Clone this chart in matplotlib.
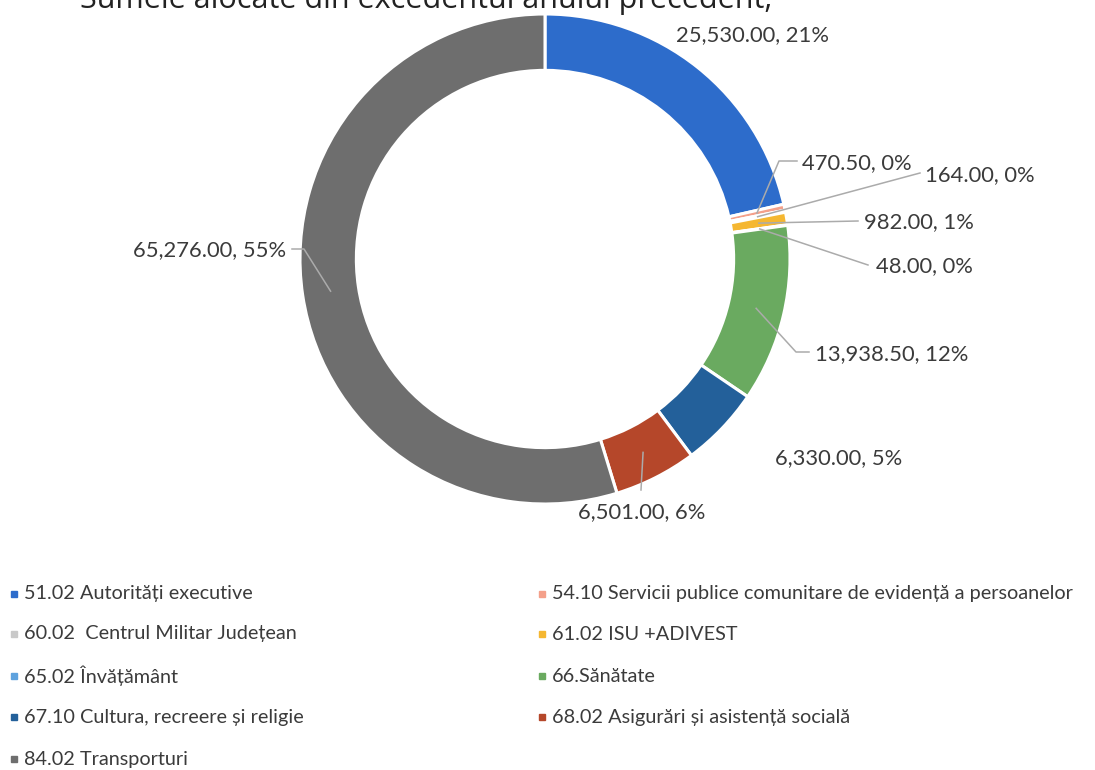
import numpy as np
import matplotlib
matplotlib.use("Agg")
import matplotlib.pyplot as plt

# ---- data ----
categories = [
    "51.02 Autorități executive",
    "54.10 Servicii publice comunitare de evidență a persoanelor",
    "60.02  Centrul Militar Județean",
    "61.02 ISU +ADIVEST",
    "65.02 Învățământ",
    "66.Sănătate",
    "67.10 Cultura, recreere și religie",
    "68.02 Asigurări și asistență socială",
    "84.02 Transporturi",
]
values = [25530.00, 470.50, 164.00, 982.00, 48.00, 13938.50, 6330.00, 6501.00, 65276.00]
percent_labels = ["21%", "0%", "0%", "1%", "0%", "12%", "5%", "6%", "55%"]
colors = ["#2D6CCB", "#F4A08A", "#C9C9C9", "#F5B731", "#5EA2DE",
          "#6AAA60", "#23609A", "#B5472A", "#6E6E6E"]
title = "Sumele alocate din excedentul anului precedent,"

# ---- layout (pixels in image coords, y downward) ----
W, H = 1095, 770
CX, CY, R = 545, 259, 245
ring_w = 0.23
label_pos = [
    (676, 35, "left", []),
    (802, 163, "left", [(779, 161), (797, 161)]),
    (925, 175, "left", [(920, 173)]),
    (864, 222, "left", [(858, 221)]),
    (876, 266, "left", [(868, 265)]),
    (815, 354, "left", [(796, 352), (809, 352)]),
    (775, 458, "left", []),
    (578, 512, "left", [(641, 490)]),
    (286, 250, "right", [(304, 249), (292, 249)]),
]

fig = plt.figure(figsize=(W / 100, H / 100), dpi=100)
fig.patch.set_facecolor("white")
ax = fig.add_axes([(CX - R) / W, (H - CY - R) / H, 2 * R / W, 2 * R / H])
wedges, _ = ax.pie(values, colors=colors, startangle=90, counterclock=False,
                   radius=1.0, wedgeprops=dict(width=ring_w, edgecolor="white", linewidth=2.2))
ax.set_xlim(-1, 1)
ax.set_ylim(-1, 1)
ax.set_aspect("equal")
ax.axis("off")

def px2data(px, py):
    return (px - CX) / R, (CY - py) / R

txt_color = "#3b3b3b"
line_color = "#ababab"
font = ["Lato", "DejaVu Sans"]
for w, v, pct, (lx, ly, ha, pts) in zip(wedges, values, percent_labels, label_pos):
    mid = np.deg2rad((w.theta1 + w.theta2) / 2)
    rr = 1 - ring_w / 2
    ax0, ay0 = rr * np.cos(mid), rr * np.sin(mid)
    if pts:
        xs = [ax0] + [px2data(*p)[0] for p in pts]
        ys = [ay0] + [px2data(*p)[1] for p in pts]
        ax.plot(xs, ys, color=line_color, lw=1.1, clip_on=False, zorder=5)
    fig.text(lx / W, 1 - ly / H, f"{v:,.2f}, {pct}", ha=ha, va="center",
             fontsize=15.8, color=txt_color, family=font)

# title (cut off at top like the reference)
fig.text(80 / W, 1 - 8 / H, title, ha="left", va="baseline", fontsize=22,
         color="#222222", family=["Open Sans", "DejaVu Sans"])

# legend
col_x = [14, 542]
row_y = [594, 634, 676, 717, 759]
for i, (cat, c) in enumerate(zip(categories, colors)):
    x = col_x[i % 2]
    y = row_y[i // 2]
    fig.patches.append(plt.Rectangle(((x - 3) / W, 1 - (y + 3) / H), 6 / W, 6 / H,
                                     transform=fig.transFigure, color=c, figure=fig))
    fig.text((x + 10) / W, 1 - y / H, cat, ha="left", va="center",
             fontsize=14.3, color=txt_color, family=font)

fig.savefig("out.png", dpi=100, facecolor="white")
